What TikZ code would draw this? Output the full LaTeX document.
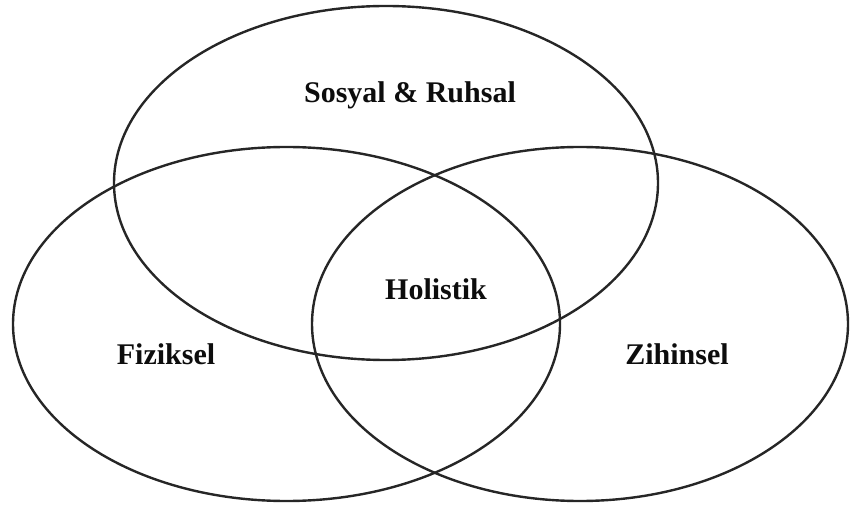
\documentclass[tikz,border=0pt]{standalone}
\usepackage{fontspec}
\setmainfont{Liberation Serif}
\usetikzlibrary{shapes.geometric}
\begin{document}
\begin{tikzpicture}[x=0.5pt,y=-0.5pt,
  setshape/.style={ellipse, draw=black!85, line width=1.2pt, inner sep=0pt, outer sep=0pt},
  lbl/.style={font=\fontsize{15}{18}\selectfont\bfseries, text=black!95, inner sep=0pt}]
\useasboundingbox (0,0) rectangle (850,507);
\node[setshape, minimum width=272pt, minimum height=177pt] (sos) at (386,183) {};
\node[setshape, minimum width=273.5pt, minimum height=177pt] (fiz) at (286.5,324) {};
\node[setshape, minimum width=268pt, minimum height=177pt] (zih) at (580,324) {};
\node[lbl] (tsos) at (410,95) {Sosyal \& Ruhsal};
\node[lbl] (thol) at (436,289) {Holistik};
\node[lbl] (tfiz) at (166,354) {Fiziksel};
\node[lbl] (tzih) at (677,354) {Zihinsel};
\end{tikzpicture}
\end{document}
